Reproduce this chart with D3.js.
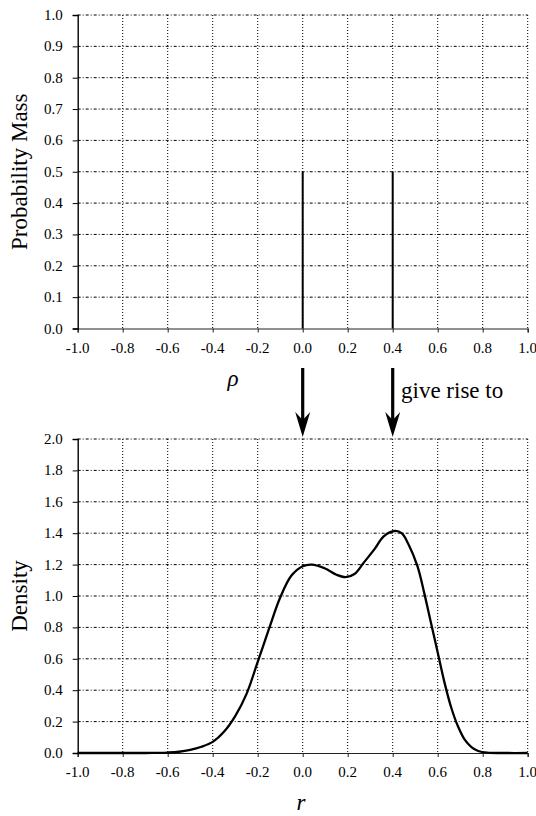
<!DOCTYPE html>
<html>
<head>
<meta charset="utf-8">
<script src="https://cdn.jsdelivr.net/npm/d3@7"></script>
</head>
<body style="margin:0">
<svg id="chart"></svg>
<script>
// point masses for rho (top panel)
var rhoValues = [0.0, 0.4];
var rhoMass = [0.5, 0.5];

// density of r (bottom panel)
var rValues = [-1.0, -0.9, -0.8, -0.7, -0.65, -0.6, -0.55, -0.5, -0.45, -0.4,
  -0.35, -0.3, -0.25, -0.2, -0.15, -0.1, -0.05, 0.0, 0.04, 0.1,
  0.15, 0.19, 0.23, 0.27, 0.32, 0.36, 0.41, 0.44, 0.47, 0.51,
  0.54, 0.57, 0.6, 0.63, 0.66, 0.69, 0.72, 0.75, 0.78, 0.82, 0.9, 1.0];
var density = [0, 0, 0, 0, 0.001, 0.003, 0.008, 0.02, 0.04, 0.071,
  0.135, 0.235, 0.375, 0.58, 0.79, 0.99, 1.13, 1.19, 1.2, 1.175,
  1.135, 1.12, 1.14, 1.21, 1.30, 1.38, 1.415, 1.40, 1.33, 1.19,
  1.02, 0.83, 0.64, 0.45, 0.29, 0.17, 0.085, 0.038, 0.013, 0.002, 0, 0];

// tick labels
var xTicks = [-1.0, -0.8, -0.6, -0.4, -0.2, 0.0, 0.2, 0.4, 0.6, 0.8, 1.0];
var massTicks = [0.0, 0.1, 0.2, 0.3, 0.4, 0.5, 0.6, 0.7, 0.8, 0.9, 1.0];
var densityTicks = [0.0, 0.2, 0.4, 0.6, 0.8, 1.0, 1.2, 1.4, 1.6, 1.8, 2.0];

var width = 536;
var height = 816;
var serif = "'Liberation Serif'";

var svg = d3.select("#chart")
  .attr("width", width)
  .attr("height", height);

var left = 77.7, right = 527.7;

// shared x scale for both panels
var x = d3.scaleLinear().domain([-1, 1]).range([left, right]);

var yTop = d3.scaleLinear().domain([0, 1]).range([328.5, 15]);
var yBot = d3.scaleLinear().domain([0, 2]).range([753, 439]);

// plain hyphen for negatives, like the original
var fmt = d => d.toFixed(1);

// lines and marks first, all text goes in its own layer at the end
var marks = svg.append("g");
var labels = [];

function drawPanel(y, yTicks) {
  var g = marks.append("g");
  var top = y.range()[1], bottom = y.range()[0];

  // horizontal grid
  g.selectAll(".hgrid")
    .data(yTicks.filter(d => d > 0))
    .enter()
    .append("line")
    .attr("x1", left).attr("x2", right)
    .attr("y1", d => y(d)).attr("y2", d => y(d))
    .attr("stroke", "#000")
    .attr("stroke-width", 1)
    .attr("stroke-dasharray", "3,2,1,2");

  // vertical grid
  g.selectAll(".vgrid")
    .data(xTicks.filter(d => d > -1))
    .enter()
    .append("line")
    .attr("x1", d => x(d)).attr("x2", d => x(d))
    .attr("y1", top).attr("y2", bottom)
    .attr("stroke", "#000")
    .attr("stroke-width", 1)
    .attr("stroke-dasharray", "1,2");

  // axes without their text; tick labels are added below
  var gx = g.append("g")
    .attr("transform", "translate(0," + bottom + ")")
    .call(d3.axisBottom(x).tickValues(xTicks).tickSize(4).tickFormat(""));
  gx.select(".domain").attr("stroke", "#222").attr("stroke-width", 1.2);
  gx.selectAll("line").attr("stroke", "#222");

  var gy = g.append("g")
    .attr("transform", "translate(" + left + ",0)")
    .call(d3.axisLeft(y).tickValues(yTicks).tickSize(5).tickFormat(""));
  gy.select(".domain").attr("stroke", "#000").attr("stroke-width", 1.4);

  xTicks.forEach(d => labels.push({ text: fmt(d), x: x(d), y: bottom + 24, size: 15, anchor: "middle" }));
  yTicks.forEach(d => labels.push({ text: fmt(d), x: left - 15, y: y(d) + 5, size: 15, anchor: "end" }));

  return g;
}

var topPanel = drawPanel(yTop, massTicks);
var botPanel = drawPanel(yBot, densityTicks);

// stems for the point masses
topPanel.selectAll(".stem")
  .data(rhoValues)
  .enter()
  .append("line")
  .attr("x1", d => x(d)).attr("x2", d => x(d))
  .attr("y1", yTop(0))
  .attr("y2", (d, i) => yTop(rhoMass[i]))
  .attr("stroke", "#000")
  .attr("stroke-width", 2);

// density curve
var line = d3.line()
  .x((d, i) => x(rValues[i]))
  .y(d => yBot(d))
  .curve(d3.curveCatmullRom.alpha(0.5));

botPanel.append("path")
  .datum(density)
  .attr("d", line)
  .attr("fill", "none")
  .attr("stroke", "#000")
  .attr("stroke-width", 2.3);

// arrows linking the two panels
var arrowTop = 368, arrowTip = 437;
var arrows = marks.selectAll(".arrow")
  .data(rhoValues)
  .enter()
  .append("g");

arrows.append("line")
  .attr("x1", d => x(d)).attr("x2", d => x(d))
  .attr("y1", arrowTop).attr("y2", arrowTip - 12)
  .attr("stroke", "#000")
  .attr("stroke-width", 3.2);

arrows.append("path")
  .attr("d", d => {
    var cx = x(d);
    return "M" + cx + "," + arrowTip +
      "L" + (cx - 7.5) + "," + (arrowTip - 25) +
      "L" + cx + "," + (arrowTip - 17) +
      "L" + (cx + 7.5) + "," + (arrowTip - 25) + "Z";
  })
  .attr("fill", "#000");

// titles and notes
labels.push({ text: "Probability Mass", x: 27, y: (yTop(0) + yTop(1)) / 2, size: 23, anchor: "middle", rotate: true });
labels.push({ text: "Density", x: 27, y: (yBot(0) + yBot(2)) / 2, size: 23, anchor: "middle", rotate: true });
labels.push({ text: "\u03C1", x: 233, y: 386, size: 23, anchor: "middle", italic: true });
labels.push({ text: "r", x: 301, y: 810, size: 23, anchor: "middle", italic: true });
labels.push({ text: "give rise to", x: 401, y: 398, size: 23, anchor: "start" });

svg.selectAll("text.lbl")
  .data(labels)
  .enter()
  .append("text")
  .attr("class", "lbl")
  .attr("x", d => d.rotate ? 0 : d.x)
  .attr("y", d => d.rotate ? 0 : d.y)
  .attr("transform", d => d.rotate ? "translate(" + d.x + "," + d.y + ") rotate(-90)" : null)
  .attr("font-size", d => d.size + "px")
  .style("font-family", serif)
  .style("font-style", d => d.italic ? "italic" : null)
  .attr("text-anchor", d => d.anchor)
  .text(d => d.text);

// re-apply once the font is ready, in case it loads late
if (document.fonts && document.fonts.load) {
  Promise.all([
    document.fonts.load("15px 'Liberation Serif'"),
    document.fonts.load("italic 23px 'Liberation Serif'")
  ]).then(function() {
    svg.selectAll("text.lbl").style("font-family", serif);
  });
}
</script>
</body>
</html>
